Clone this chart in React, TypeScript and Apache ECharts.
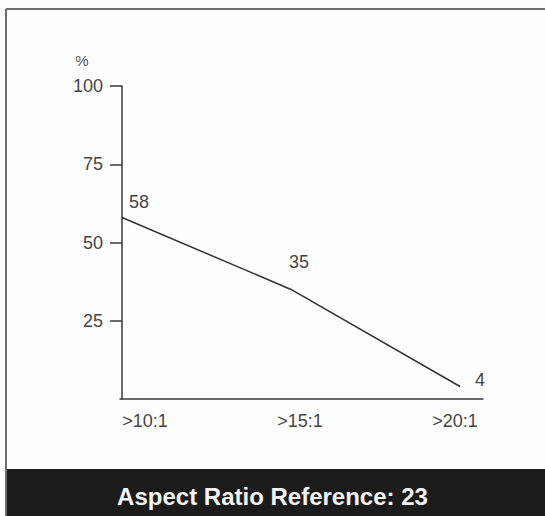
import React, { useEffect, useRef } from "react";
import * as echarts from "echarts";

const categories = [">10:1", ">15:1", ">20:1"];
const values = [58, 35, 4];
const yTicks = [25, 50, 75, 100];
const titleText = "Aspect Ratio Reference: 23";
const yName = "%";

export default function App() {
  const ref = useRef<HTMLDivElement>(null);
  useEffect(() => {
    if (!ref.current) return;
    const chart = echarts.init(ref.current, null, { renderer: "svg" });
    const font = "Liberation Sans, Arial, sans-serif";
    const labelCfg = [
      { position: "top", distance: 5, offset: [17, 0] },
      { position: "top", distance: 17, offset: [8, 0] },
      { position: "right", distance: 14, offset: [0, -6] },
    ];
    chart.setOption({
      animation: false,
      backgroundColor: "#fdfefe",
      title: {
        text: titleText,
        left: "center",
        top: 479,
        textStyle: { color: "#f4f4f4", fontSize: 24, fontWeight: "bold", fontFamily: font },
      },
      graphic: [
        { type: "rect", shape: { x: 6, y: 469, width: 545, height: 60 }, style: { fill: "#1b1b1b" }, z: -1 },
        { type: "line", shape: { x1: 6, y1: 9, x2: 545, y2: 9 }, style: { stroke: "#6f6f6f", lineWidth: 2 } },
        { type: "line", shape: { x1: 6, y1: 9, x2: 6, y2: 516 }, style: { stroke: "#6f6f6f", lineWidth: 2 } },
      ],
      grid: [
        { left: 120, top: 86, width: 363, height: 313 },
        { left: 145, top: 86, width: 310, height: 313 },
      ],
      xAxis: [
        {
          type: "value",
          gridIndex: 0,
          min: -0.0118,
          max: 2.136,
          axisLine: { show: true, onZero: false, lineStyle: { color: "#3a3a3a", width: 1.5 } },
          axisTick: { show: false },
          axisLabel: { show: false },
          splitLine: { show: false },
        },
        {
          type: "category",
          gridIndex: 1,
          data: categories,
          boundaryGap: false,
          axisLine: { show: false },
          axisTick: { show: false },
          axisLabel: { margin: 13, color: "#454545", fontSize: 18, fontFamily: font },
          splitLine: { show: false },
        },
      ],
      yAxis: [
        {
          type: "value",
          gridIndex: 0,
          min: 0,
          max: 100,
          interval: 25,
          name: yName,
          nameLocation: "end",
          nameGap: 18,
          nameTextStyle: { color: "#555", fontSize: 15, fontFamily: font, align: "center", padding: [0, 80, 0, 0] },
          axisLine: { show: true, lineStyle: { color: "#3a3a3a", width: 1.5 } },
          axisTick: { show: true, length: 12, customValues: yTicks, lineStyle: { color: "#3a3a3a", width: 1.5 } },
          axisLabel: {
            margin: 17,
            color: "#454545",
            fontSize: 18,
            fontFamily: font,
            customValues: yTicks,
          },
          splitLine: { show: false },
        },
        { type: "value", gridIndex: 1, min: 0, max: 100, show: false },
      ],
      series: [
        {
          type: "line",
          xAxisIndex: 0,
          yAxisIndex: 0,
          data: values.map((v, i) => ({
            value: [i, v],
            label: { ...labelCfg[i] },
          })),
          symbol: "circle",
          symbolSize: 2,
          showSymbol: true,
          showAllSymbol: true,
          itemStyle: { color: "rgba(0,0,0,0)" },
          lineStyle: { color: "#333", width: 1.5 },
          label: {
            show: true,
            color: "#454545",
            fontSize: 18,
            fontFamily: font,
            formatter: (p: any) => String(p.value[1]),
          },
        },
      ],
    });
    return () => chart.dispose();
  }, []);
  return (
    <div
      ref={ref}
      style={{ position: "absolute", left: 0, top: 0, width: 545, height: 516 }}
    />
  );
}
